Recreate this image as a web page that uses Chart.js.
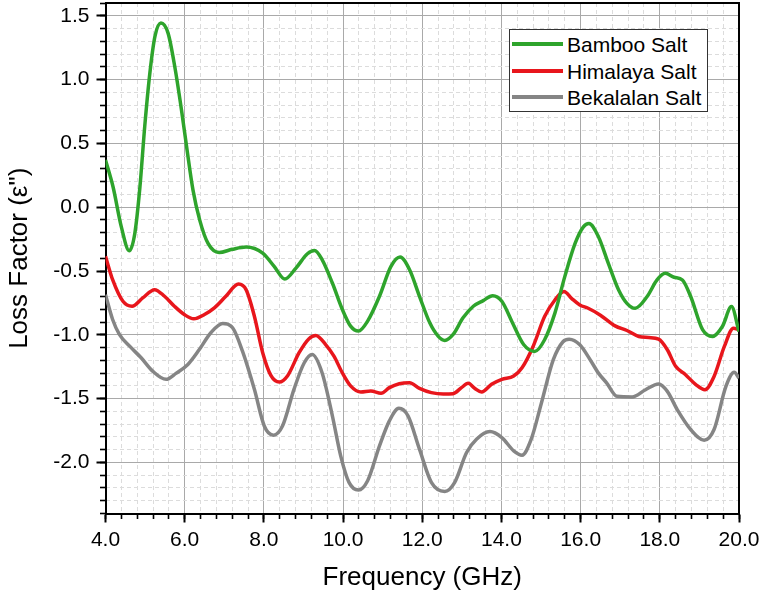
<!DOCTYPE html>
<html>
<head>
<meta charset="utf-8">
<script src="https://cdn.jsdelivr.net/npm/chart.js@4.4.1/dist/chart.umd.min.js"></script>
<style>
html,body{margin:0;padding:0;background:#fff;}
#wrap{position:relative;width:761px;height:596px;overflow:hidden;background:#fff;}
#c{position:absolute;left:0;top:0;}
#legend{position:absolute;left:509px;top:29px;width:199px;height:83px;box-sizing:border-box;border:1px solid #333;background:#fff;font-family:"Liberation Sans",Arial,sans-serif;font-size:21px;color:#000;}
#legend .ln{position:absolute;left:2px;width:51px;height:3.5px;}
#legend .tx{position:absolute;left:57px;line-height:21px;white-space:nowrap;}
</style>
</head>
<body>
<div id="wrap">
<canvas id="c" width="761" height="596"></canvas>
<div id="legend"></div>
</div>
<script>
// ---- data ----
const seriesNames = ['Bamboo Salt', 'Himalaya Salt', 'Bekalalan Salt'];

const freqBamboo = [4.00,4.19,4.40,4.60,4.74,4.87,4.99,5.12,5.25,5.40,5.58,5.75,5.92,6.06,6.21,6.38,6.59,6.87,7.20,7.55,7.97,8.26,8.53,8.81,9.10,9.28,9.47,9.73,9.98,10.19,10.39,10.62,10.92,11.21,11.44,11.68,11.93,12.19,12.40,12.57,12.78,13.03,13.29,13.54,13.78,14.01,14.26,14.56,14.84,15.09,15.35,15.60,15.86,16.07,16.21,16.45,16.70,16.96,17.17,17.38,17.68,17.93,18.14,18.36,18.57,18.78,19.08,19.33,19.58,19.81,20.00];
const lossBamboo = [0.37,0.16,-0.154,-0.342,-0.206,0.16,0.63,1.05,1.34,1.443,1.364,1.10,0.76,0.448,0.134,-0.101,-0.284,-0.355,-0.33,-0.3125,-0.36,-0.464,-0.5625,-0.477,-0.365,-0.339,-0.41,-0.594,-0.80,-0.932,-0.971,-0.893,-0.698,-0.464,-0.391,-0.49,-0.698,-0.906,-1.01,-1.044,-0.997,-0.867,-0.776,-0.732,-0.693,-0.737,-0.893,-1.076,-1.13,-1.039,-0.83,-0.544,-0.284,-0.154,-0.128,-0.232,-0.44,-0.648,-0.753,-0.792,-0.70,-0.57,-0.518,-0.549,-0.57,-0.70,-0.96,-1.013,-0.935,-0.779,-0.974];

const freqHimalaya = [4.00,4.18,4.44,4.67,4.94,5.24,5.49,5.74,5.99,6.23,6.50,6.75,7.04,7.36,7.55,7.76,7.97,8.18,8.39,8.60,8.89,9.14,9.31,9.56,9.77,9.98,10.19,10.45,10.70,10.96,11.17,11.42,11.68,11.93,12.23,12.53,12.78,12.99,13.16,13.33,13.50,13.75,14.01,14.31,14.52,14.80,15.09,15.35,15.58,15.77,15.98,16.19,16.49,16.87,17.17,17.47,17.72,17.97,18.19,18.40,18.65,18.91,19.14,19.37,19.63,19.86,20.00];
const lossHimalaya = [-0.385,-0.568,-0.737,-0.776,-0.711,-0.646,-0.698,-0.776,-0.841,-0.875,-0.841,-0.789,-0.698,-0.602,-0.646,-0.854,-1.14,-1.32,-1.37,-1.32,-1.14,-1.03,-1.005,-1.076,-1.167,-1.297,-1.40,-1.448,-1.44,-1.458,-1.414,-1.383,-1.375,-1.42,-1.453,-1.464,-1.461,-1.414,-1.38,-1.42,-1.448,-1.388,-1.349,-1.323,-1.258,-1.091,-0.857,-0.727,-0.661,-0.714,-0.766,-0.792,-0.844,-0.93,-0.966,-1.013,-1.021,-1.034,-1.117,-1.247,-1.3125,-1.39,-1.43,-1.326,-1.091,-0.948,-0.96];

const freqBekalalan = [4.00,4.18,4.35,4.61,4.90,5.19,5.53,5.78,6.08,6.37,6.66,6.96,7.21,7.46,7.76,8.01,8.24,8.47,8.76,9.02,9.22,9.47,9.73,9.94,10.15,10.39,10.62,10.92,11.17,11.41,11.64,11.93,12.23,12.57,12.82,13.12,13.37,13.71,14.01,14.31,14.52,14.75,15.01,15.31,15.56,15.71,15.98,16.24,16.45,16.66,16.92,17.30,17.64,17.97,18.19,18.44,18.78,19.12,19.37,19.67,19.88,20.00];
const lossBekalalan = [-0.685,-0.88,-0.997,-1.089,-1.18,-1.284,-1.349,-1.302,-1.232,-1.115,-0.984,-0.911,-0.945,-1.128,-1.427,-1.714,-1.786,-1.714,-1.427,-1.219,-1.154,-1.297,-1.635,-1.948,-2.156,-2.216,-2.143,-1.87,-1.674,-1.576,-1.635,-1.896,-2.156,-2.227,-2.156,-1.922,-1.818,-1.758,-1.805,-1.909,-1.943,-1.82,-1.534,-1.195,-1.052,-1.034,-1.078,-1.195,-1.30,-1.378,-1.482,-1.487,-1.43,-1.385,-1.443,-1.586,-1.742,-1.826,-1.742,-1.404,-1.294,-1.339];

const xTickValues = [4, 6, 8, 10, 12, 14, 16, 18, 20];
const yTickValues = [-2.0, -1.5, -1.0, -0.5, 0.0, 0.5, 1.0, 1.5];

// ---- styling ----
const FONT = '"Liberation Sans", Arial, sans-serif';
const colors = ['#2ea42c', '#e8161c', '#858585'];
const MAJOR_GRID = '#a9a9a9';
const MINOR_GRID = '#dcdcdc';
const isMult = (v, step) => Math.abs(v / step - Math.round(v / step)) < 1e-6;
const toPts = (fs, vs) => fs.map((f, i) => ({x: f, y: vs[i]}));

const seriesData = [toPts(freqBamboo, lossBamboo), toPts(freqHimalaya, lossHimalaya), toPts(freqBekalalan, lossBekalalan)];

const datasets = seriesNames.map((name, i) => ({
  label: name,
  data: seriesData[i],
  borderColor: colors[i],
  backgroundColor: colors[i],
  borderWidth: 3.5,
  pointRadius: 0,
  fill: false,
  tension: 0.4,
  cubicInterpolationMode: 'monotone',
  order: i
}));

new Chart(document.getElementById('c'), {
  type: 'line',
  data: { datasets },
  options: {
    responsive: false,
    animation: false,
    devicePixelRatio: 1,
    layout: { padding: { left: 0, right: 22, top: 3, bottom: 0 } },
    plugins: { legend: { display: false }, tooltip: { enabled: false } },
    scales: {
      x: {
        type: 'linear', position: 'bottom', min: 4, max: 20, weight: 1,
        afterBuildTicks: s => { s.ticks = xTickValues.map(v => ({value: v})); },
        afterFit: s => { s.height = 82.5; s.paddingLeft = 0; s.paddingRight = 0; },
        grid: { color: MAJOR_GRID, lineWidth: 1, tickColor: '#000', tickLength: 9, tickWidth: 2 },
        border: { display: true, color: '#000', width: 2 },
        ticks: { stepSize: 0.4, font: { family: FONT, size: 21 }, color: '#000', padding: 5, maxRotation: 0, autoSkip: false,
                 callback: v => Number(v).toFixed(1) },
        title: { display: true, text: 'Frequency (GHz)', font: { family: FONT, size: 26 }, color: '#000', padding: { top: 0, bottom: 3 } }
      },
      xMinor: {
        type: 'linear', position: 'bottom', min: 4, max: 20, weight: 0,
        afterFit: s => { s.height = 0; s.paddingLeft = 0; s.paddingRight = 0; },
        ticks: { stepSize: 0.4, display: false, autoSkip: false },
        grid: { color: c => (c.tick && isMult(c.tick.value, 2)) ? 'rgba(0,0,0,0)' : MINOR_GRID,
                lineWidth: 1, tickColor: '#000', tickLength: 5.5, tickWidth: 1.6 },
        border: { display: false, dash: [4, 3] }
      },
      xTop: {
        type: 'linear', position: 'top', min: 4, max: 20,
        afterFit: s => { s.height = 0; s.paddingLeft = 0; s.paddingRight = 0; },
        ticks: { display: false },
        grid: { drawOnChartArea: false, drawTicks: false },
        border: { display: true, color: '#000', width: 2 }
      },
      y: {
        type: 'linear', position: 'left', min: -2.4, max: 1.6, weight: 1,
        afterBuildTicks: s => { s.ticks = yTickValues.map(v => ({value: v})); },
        afterFit: s => { s.width = 105.5; s.paddingTop = 0; s.paddingBottom = 0; },
        grid: { color: MAJOR_GRID, lineWidth: 1, tickColor: '#000', tickLength: 9, tickWidth: 2 },
        border: { display: true, color: '#000', width: 2 },
        ticks: { stepSize: 0.1, font: { family: FONT, size: 21 }, color: '#000', padding: 7, autoSkip: false,
                 callback: v => Number(v).toFixed(1) },
        title: { display: true, text: 'Loss Factor (ε")', font: { family: FONT, size: 26 }, color: '#000', padding: { top: 4, bottom: 0 } }
      },
      yMinor: {
        type: 'linear', position: 'left', min: -2.4, max: 1.6, weight: 0,
        afterFit: s => { s.width = 0; s.paddingTop = 0; s.paddingBottom = 0; },
        ticks: { stepSize: 0.1, display: false, autoSkip: false },
        grid: { color: c => (c.tick && isMult(c.tick.value, 0.5)) ? 'rgba(0,0,0,0)' : MINOR_GRID,
                lineWidth: 1, tickColor: '#000', tickLength: 5.5, tickWidth: 1.6 },
        border: { display: false, dash: [4, 3] }
      },
      yRight: {
        type: 'linear', position: 'right', min: -2.4, max: 1.6,
        afterFit: s => { s.width = 0; s.paddingTop = 0; s.paddingBottom = 0; },
        ticks: { display: false },
        grid: { drawOnChartArea: false, drawTicks: false },
        border: { display: true, color: '#000', width: 2 }
      }
    }
  }
});

// HTML legend
const legend = document.getElementById('legend');
const rowCenters = [14, 41, 67];
seriesNames.forEach((name, i) => {
  const ln = document.createElement('div');
  ln.className = 'ln';
  ln.style.top = (rowCenters[i] - 1.75) + 'px';
  ln.style.background = colors[i];
  legend.appendChild(ln);
  const tx = document.createElement('div');
  tx.className = 'tx';
  tx.style.top = (rowCenters[i] - 10.5) + 'px';
  tx.textContent = name;
  legend.appendChild(tx);
});
</script>
</body>
</html>
